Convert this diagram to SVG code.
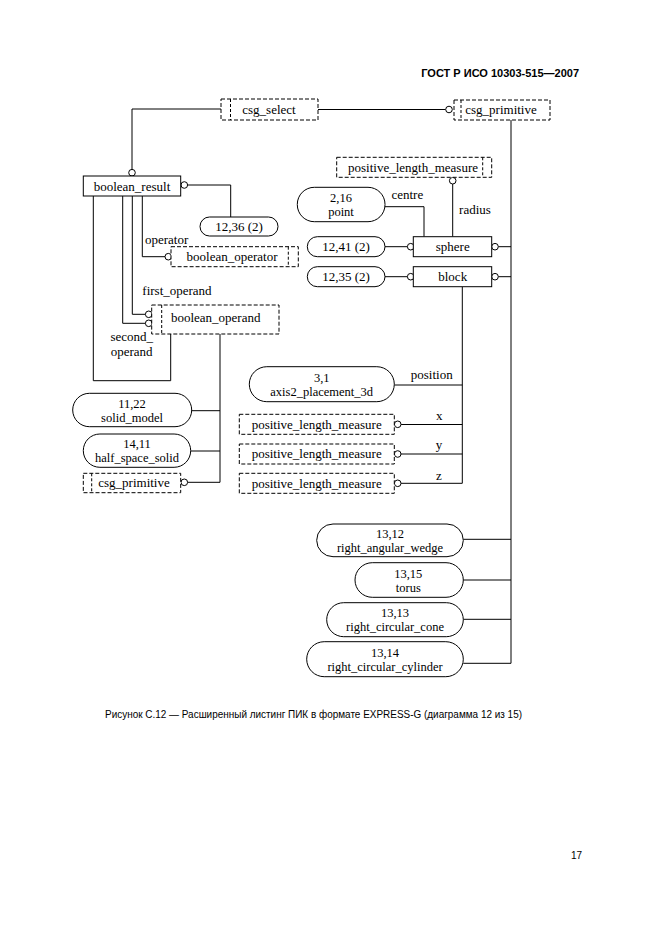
<svg xmlns="http://www.w3.org/2000/svg" width="661" height="936" viewBox="0 0 661 936">
<style>
.ln{stroke:#000;stroke-width:1;fill:none}
.box{fill:#fff;stroke:#000;stroke-width:1}
.dbox{fill:#fff;stroke:#000;stroke-width:1;stroke-dasharray:4 2}
.dl{stroke:#000;stroke-width:1;stroke-dasharray:3 2;fill:none}
.c{fill:#fff;stroke:#000;stroke-width:1}
.t{font-family:"Liberation Serif","Times New Roman",serif;font-size:13px;text-anchor:middle;fill:#000}
.t2{font-family:"Liberation Serif","Times New Roman",serif;font-size:12.5px;text-anchor:middle;fill:#000}
.lb{font-family:"Liberation Serif","Times New Roman",serif;font-size:13px;fill:#000}
.s{font-family:"Liberation Sans",Arial,sans-serif;fill:#000}
</style>
<rect width="661" height="936" fill="#fff"/>
<text class="s" x="579" y="77" font-size="11" font-weight="bold" text-anchor="end">ГОСТ Р ИСО 10303-515—2007</text>

<g id="connectors">
<path class="ln" d="M221 109 H132 V169.4"/>
<path class="ln" d="M318 109.5 H445.7"/>
<path class="ln" d="M511 120 V663.3"/>
<path class="ln" d="M498.3 246.7 H511"/>
<path class="ln" d="M498.3 276.7 H511"/>
<path class="ln" d="M463.3 539.3 H511"/>
<path class="ln" d="M463.3 580 H511"/>
<path class="ln" d="M463.3 619.3 H511"/>
<path class="ln" d="M463.3 663.3 H511"/>
<path class="ln" d="M187.6 185 H230.7 V217"/>
<path class="ln" d="M93.3 196 V380.7 H170.7 V334"/>
<path class="ln" d="M122.7 196 V323.3 H145.4"/>
<path class="ln" d="M132.3 196 V314.3 H145.4"/>
<path class="ln" d="M142.3 196 V256.7 H165"/>
<path class="ln" d="M220 334 V482.3"/>
<path class="ln" d="M191.7 410.7 H220"/>
<path class="ln" d="M190.7 451 H220"/>
<path class="ln" d="M187.6 482.3 H220"/>
<path class="ln" d="M452.7 184 V236.7"/>
<path class="ln" d="M385 206.7 H424 V236.7"/>
<path class="ln" d="M385 246.7 H407.4"/>
<path class="ln" d="M385 276.7 H407.4"/>
<path class="ln" d="M462.3 286.7 V483.3"/>
<path class="ln" d="M394.3 385 H462.3"/>
<path class="ln" d="M401 424.5 H462.3"/>
<path class="ln" d="M401 454 H462.3"/>
<path class="ln" d="M401 483.3 H462.3"/>
<circle class="c" cx="132" cy="172.7" r="3.3"/>
<circle class="c" cx="449" cy="109.5" r="3.3"/>
<circle class="c" cx="495" cy="246.7" r="3.3"/>
<circle class="c" cx="495" cy="276.7" r="3.3"/>
<circle class="c" cx="184.3" cy="185" r="3.3"/>
<circle class="c" cx="148.7" cy="323.3" r="3.3"/>
<circle class="c" cx="148.7" cy="314.3" r="3.3"/>
<circle class="c" cx="168.3" cy="256.7" r="3.3"/>
<circle class="c" cx="184.3" cy="482.3" r="3.3"/>
<circle class="c" cx="452.7" cy="180.7" r="3.3"/>
<circle class="c" cx="410.7" cy="246.7" r="3.3"/>
<circle class="c" cx="410.7" cy="276.7" r="3.3"/>
<circle class="c" cx="397.7" cy="424.3" r="3.3"/>
<circle class="c" cx="397.7" cy="454" r="3.3"/>
<circle class="c" cx="397.7" cy="483.3" r="3.3"/>
<text class="lb" x="145" y="244">operator</text>
<text class="lb" x="142.3" y="295">first_operand</text>
<text class="t" x="131.7" y="341">second_</text>
<text class="t" x="131.7" y="356">operand</text>
<text class="t" x="407.3" y="198.5">centre</text>
<text class="t" x="475" y="214">radius</text>
<text class="t" x="431.7" y="379">position</text>
<text class="t" x="439.3" y="420">x</text>
<text class="t" x="439" y="449">y</text>
<text class="t" x="439" y="480">z</text>
</g>

<g id="csg_select_top"><rect class="dbox" x="221" y="99" width="97" height="21"/><path class="dl" d="M230.5 99 V120"/><text class="t" x="269" y="113.5">csg_select</text></g>
<g id="csg_primitive_top"><rect class="dbox" x="454" y="100" width="96" height="20"/><path class="dl" d="M461 100 V120"/><text class="t" x="501" y="114">csg_primitive</text></g>
<g id="boolean_result"><rect class="box" x="83.3" y="176" width="97.4" height="20"/><text class="t" x="132" y="190.5">boolean_result</text></g>
<g id="n12_36"><rect class="box" x="200" y="217" width="78" height="19" rx="9.5"/><text class="t" x="239" y="231">12,36 (2)</text></g>
<g id="boolean_operator"><rect class="dbox" x="171" y="246.7" width="127.3" height="20"/><path class="dl" d="M288.3 246.7 V266.7"/><text class="t" x="232" y="261">boolean_operator</text></g>
<g id="boolean_operand"><rect class="dbox" x="151.7" y="305" width="127.3" height="29"/><path class="dl" d="M161.7 305 V334"/><text class="t" x="215.7" y="321.5">boolean_operand</text></g>
<g id="solid_model"><rect class="box" x="72.7" y="393.3" width="119" height="33.4" rx="16.7"/><text class="t2" x="132" y="407.5">11,22</text><text class="t2" x="132" y="421.5">solid_model</text></g>
<g id="half_space_solid"><rect class="box" x="83.3" y="434" width="107.4" height="33.3" rx="16.6"/><text class="t2" x="137" y="448.2">14,11</text><text class="t2" x="137" y="462.2">half_space_solid</text></g>
<g id="csg_primitive_left"><rect class="dbox" x="83.3" y="473.3" width="97.4" height="19.4"/><path class="dl" d="M91.7 473.3 V492.7"/><text class="t" x="134" y="487">csg_primitive</text></g>
<g id="plm_top"><rect class="dbox" x="336.7" y="157.3" width="155" height="20"/><path class="dl" d="M482.7 157.3 V177.3"/><text class="t" x="413" y="171.5">positive_length_measure</text></g>
<g id="point"><rect class="box" x="297.3" y="187.3" width="87.7" height="34.4" rx="17"/><text class="t2" x="341" y="202">2,16</text><text class="t2" x="341" y="216">point</text></g>
<g id="sphere"><rect class="box" x="413.3" y="236.7" width="78.4" height="20"/><text class="t" x="452.7" y="251">sphere</text></g>
<g id="n12_41"><rect class="box" x="307.3" y="236.7" width="77.7" height="20" rx="10"/><text class="t" x="346" y="251">12,41 (2)</text></g>
<g id="block"><rect class="box" x="413.3" y="266.7" width="78.4" height="20"/><text class="t" x="452.7" y="281">block</text></g>
<g id="n12_35"><rect class="box" x="307.3" y="266.7" width="77.7" height="20" rx="10"/><text class="t" x="346" y="281">12,35 (2)</text></g>
<g id="axis2_placement_3d"><rect class="box" x="249.3" y="366.7" width="145" height="35" rx="17.5"/><text class="t2" x="321.7" y="381.7">3,1</text><text class="t2" x="321.7" y="395.7">axis2_placement_3d</text></g>
<g id="plm_x"><rect class="dbox" x="239.3" y="414.3" width="155" height="20"/><text class="t" x="316.7" y="428.6">positive_length_measure</text></g>
<g id="plm_y"><rect class="dbox" x="239.3" y="444" width="155" height="20"/><text class="t" x="316.7" y="458.3">positive_length_measure</text></g>
<g id="plm_z"><rect class="dbox" x="239.3" y="473.3" width="155" height="20"/><text class="t" x="316.7" y="487.6">positive_length_measure</text></g>
<g id="right_angular_wedge"><rect class="box" x="316.7" y="524" width="146.6" height="32.7" rx="16.3"/><text class="t2" x="390" y="537.8">13,12</text><text class="t2" x="390" y="551.8">right_angular_wedge</text></g>
<g id="torus"><rect class="box" x="355" y="562.7" width="108.3" height="34.6" rx="17.3"/><text class="t2" x="408.3" y="577.5">13,15</text><text class="t2" x="408.3" y="591.5">torus</text></g>
<g id="right_circular_cone"><rect class="box" x="326.7" y="602.7" width="136.6" height="34" rx="17"/><text class="t2" x="395" y="617.2">13,13</text><text class="t2" x="395" y="631.2">right_circular_cone</text></g>
<g id="right_circular_cylinder"><rect class="box" x="306.7" y="641.7" width="156.6" height="35" rx="17.5"/><text class="t2" x="385" y="656.7">13,14</text><text class="t2" x="385" y="670.7">right_circular_cylinder</text></g>

<text class="s" x="105" y="717.5" font-size="10" textLength="417" lengthAdjust="spacingAndGlyphs">Рисунок С.12 — Расширенный листинг ПИК в формате EXPRESS-G (диаграмма 12 из 15)</text>
<text class="s" x="582" y="859" font-size="10" text-anchor="end">17</text>
</svg>
